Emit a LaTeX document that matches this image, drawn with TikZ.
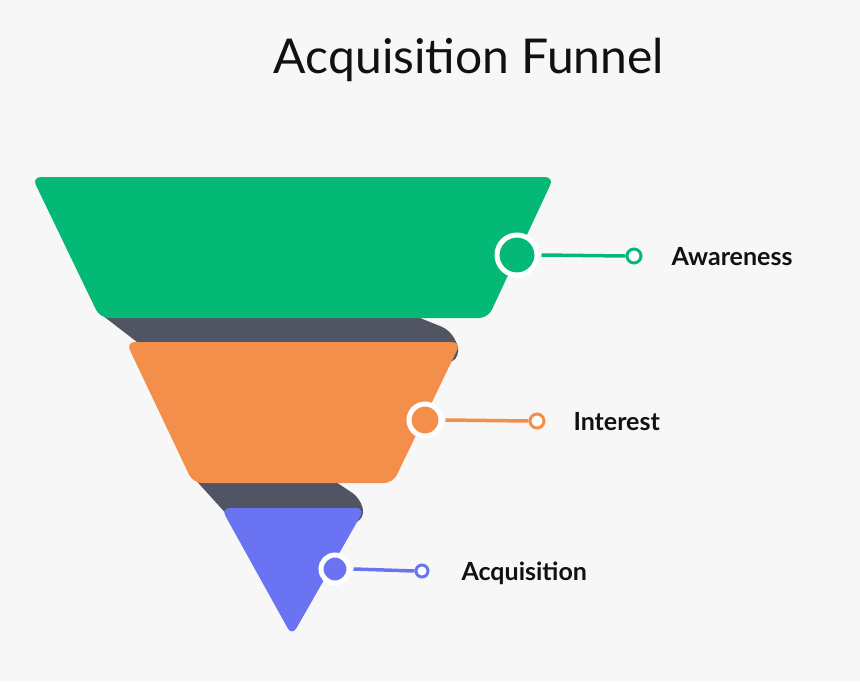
\documentclass[tikz,border=0pt]{standalone}
\usepackage{fontspec}
\setmainfont{Lato}
\begin{document}
\begin{tikzpicture}[x=1pt,y=-1pt,
  rc/.style={rounded corners=9pt},
  lbl/.style={anchor=west,font=\fontsize{25}{28}\selectfont\bfseries,text=textc},
  bigdot/.style={circle,draw=white,line width=5pt,inner sep=0pt},
  smalldot/.style={circle,draw,line width=3pt,fill=white,inner sep=0pt,minimum size=14pt},
  conn/.style={line width=3.5pt}]
\definecolor{bg}{HTML}{F7F7F7}
\definecolor{gr}{HTML}{04B976}
\definecolor{orx}{HTML}{F38F4A}
\definecolor{pu}{HTML}{6A74F2}
\definecolor{dk}{HTML}{515463}
\definecolor{textc}{HTML}{111111}
\fill[bg] (0,0) rectangle (860,681);
\useasboundingbox (0,0) rectangle (860,681);
\node[font=\fontsize{48}{52}\selectfont,text=textc] (title) at (469,60) {Acquisition Funnel};
% shadows
\fill[dk,rc] (98,312) -- (405,312) -- (450,330) -- (461,352) -- (450,365) -- (150,352) -- cycle;
\fill[dk,rc] (192,476) -- (327,476) -- (360,498) -- (365,518) -- (350,525) -- (230,518) -- cycle;
% funnels
\fill[gr,rc] (32,177) -- (554,177) -- (488,318) -- (100,318) -- cycle;
\fill[orx,rc] (126,342) -- (461,342) -- (393,483) -- (193,483) -- cycle;
\fill[pu,rc] (221,508) -- (365,508) -- (292,636) -- cycle;
% markers
\node[bigdot,fill=gr,minimum size=40pt] (g1) at (517,255) {};
\node[smalldot,draw=gr] (g2) at (634,256) {};
\draw[gr,conn] (g1.east)+(2,0) -- (g2.west);
\node[lbl] (aw) at (668,257) {Awareness};
\node[bigdot,fill=orx,minimum size=32pt] (o1) at (425,420) {};
\node[smalldot,draw=orx] (o2) at (537,421) {};
\draw[orx,conn] (o1.east)+(2,0) -- (o2.west);
\node[lbl] (in) at (570,422) {Interest};
\node[bigdot,fill=pu,minimum size=28pt] (p1) at (335,569) {};
\node[smalldot,draw=pu,minimum size=12pt] (p2) at (422,571) {};
\draw[pu,conn] (p1.east)+(2,0) -- (p2.west);
\node[lbl] (ac) at (458,573) {Acquisition};
\end{tikzpicture}
\end{document}
